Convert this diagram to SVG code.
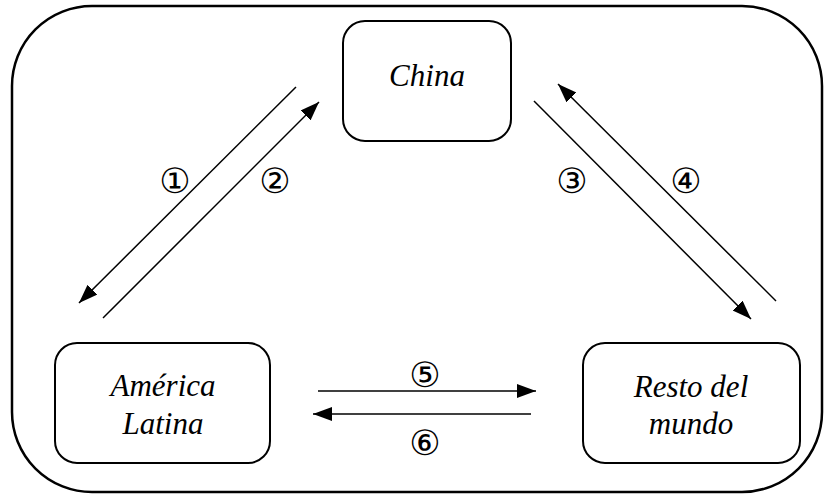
<svg xmlns="http://www.w3.org/2000/svg" width="825" height="500" viewBox="0 0 825 500">
<defs>
<marker id="ah" markerUnits="userSpaceOnUse" markerWidth="20" markerHeight="16" refX="19" refY="7" orient="auto">
<path d="M0,0 L19,7 L0,14 Z" fill="#000"/>
</marker>
<style>
.box{fill:#fff;stroke:#000;stroke-width:2}
.lbl{font-family:"Liberation Serif","Times New Roman",serif;font-style:italic;font-size:31px;text-anchor:middle;fill:#000}
.num{font-family:"DejaVu Sans",sans-serif;font-size:35px;text-anchor:middle;fill:#000}
.ar{stroke:#000;stroke-width:1.5;fill:none;marker-end:url(#ah)}
</style>
</defs>
<rect width="825" height="500" fill="#fff"/>
<rect id="frame" x="12" y="6" width="810" height="486" rx="80" ry="80" fill="none" stroke="#000" stroke-width="2.5"/>
<g id="china">
<rect class="box" x="343" y="21" width="168" height="120" rx="22"/>
<text class="lbl" x="427" y="86">China</text>
</g>
<g id="america-latina">
<rect class="box" x="55" y="343" width="215" height="120" rx="22"/>
<text class="lbl" x="163" y="396">América</text>
<text class="lbl" x="163" y="434">Latina</text>
</g>
<g id="resto-del-mundo">
<rect class="box" x="583" y="343" width="217" height="120" rx="22"/>
<text class="lbl" x="691" y="397">Resto del</text>
<text class="lbl" x="691" y="434">mundo</text>
</g>
<g id="connectors">
<line class="ar" x1="296" y1="87" x2="79" y2="303"/>
<line class="ar" x1="103" y1="318" x2="319" y2="102"/>
<line class="ar" x1="534" y1="101" x2="751" y2="319"/>
<line class="ar" x1="776" y1="301" x2="558" y2="84"/>
<line class="ar" x1="318" y1="391" x2="536" y2="391"/>
<line class="ar" x1="531" y1="414" x2="313" y2="414"/>
<text class="num" x="175" y="193">①</text>
<text class="num" x="275" y="193">②</text>
<text class="num" x="572" y="193">③</text>
<text class="num" x="686" y="193">④</text>
<text class="num" x="425" y="387">⑤</text>
<text class="num" x="425" y="455">⑥</text>
</g>
</svg>
